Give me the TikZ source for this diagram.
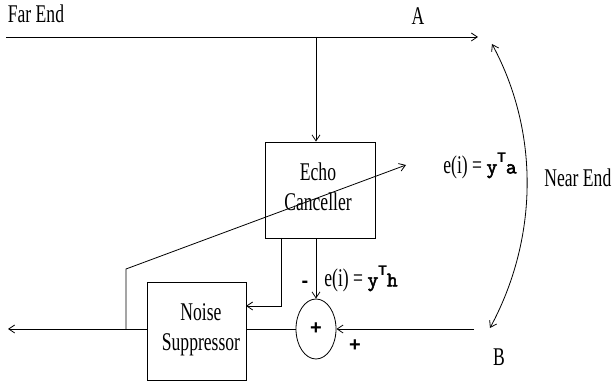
\documentclass[tikz,border=0pt]{standalone}
\usepackage{fontspec}
\setmainfont{Liberation Serif}[FakeStretch=0.69]
\newfontfamily\monob{Latin Modern Mono}[FakeBold=2.5]
\newfontfamily\sansb{Liberation Sans}
\usetikzlibrary{arrows.meta,shapes.geometric}
\newcommand{\vecy}[1]{{\fontsize{21}{21}\monob y}\raisebox{0.42em}{\fontsize{14}{14}\sansb\bfseries T}{\fontsize{21}{21}\monob #1}}
\begin{document}
\begin{tikzpicture}[x=1pt,y=-1pt,
  font=\fontsize{25.5}{30.5}\selectfont,
  line width=0.8pt,
  arr/.style={-{Straight Barb[length=6pt,width=8pt]}},
  blk/.style={draw, inner sep=0pt},
  lbl/.style={inner sep=0pt}]
\useasboundingbox (0,0) rectangle (614,387);
% blocks
\node[blk, minimum width=110pt, minimum height=96pt] (echo) at (320,190) {};
\node[lbl, align=center] (echotxt) at (318,187) {Echo\\Canceller};
\node[blk, minimum width=99pt, minimum height=98pt] (noise) at (196.5,331) {};
\node[lbl, align=center] (noisetxt) at (201,330) {Noise\\Suppressor};
\node[draw, ellipse, minimum width=40pt, minimum height=60pt, inner sep=0pt] (sum) at (316,329) {\fontsize{20}{20}\sansb\bfseries +};
% texts
\node[lbl] (farend) at (36,14) {Far End};
\node[lbl] (A) at (418,16) {A};
\node[lbl] (B) at (499,357) {B};
\node[lbl, anchor=west] (nearend) at (544,178) {Near End};
\node[lbl, anchor=west] (ea) at (443,166) {e(i) = \vecy{a}};
\node[lbl, anchor=west] (eh) at (324,279) {e(i) = \vecy{h}};
\node[lbl] (minus) at (305,284) {\fontsize{20}{20}\sansb\bfseries -};
\node[lbl] (plus) at (355,346) {\fontsize{20}{20}\sansb\bfseries +};
% coordinates
\coordinate (fe) at (6,37);
\coordinate (ae) at (478,37);
\coordinate (tap) at (316,37);
\coordinate (ec) at (281,238);
\coordinate (ns) at (246,306);
\coordinate (bin) at (474,329);
\coordinate (out) at (8,329);
\coordinate (fb) at (126,329);
\coordinate (fbk) at (126,269);
\coordinate (fbt) at (406,165);
\coordinate (cb) at (490,328);
\coordinate (ca) at (492,44);
% connectors
\draw[arr] (fe) -- (ae);
\draw[arr] (tap) -- (tap |- echo.north);
\draw[arr] (sum.north |- echo.south) -- (sum.north);
\draw[arr] (ec) |- (ns);
\draw[arr] (bin) -- (sum.east);
\draw (sum.west) -- (sum.west -| noise.east);
\draw[arr] (noise.west |- out) -- (out);
\draw[arr] (fb) -- (fbk) -- (fbt);
\draw[{Straight Barb[length=6pt,width=8pt]}-{Straight Barb[length=6pt,width=8pt]}] (cb) .. controls (538,239) and (540,133) .. (ca);
\end{tikzpicture}
\end{document}
